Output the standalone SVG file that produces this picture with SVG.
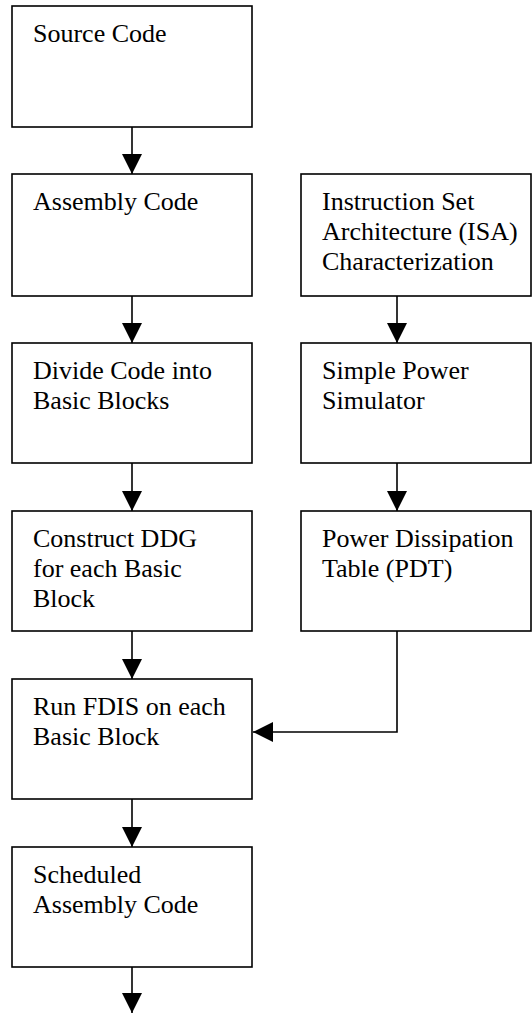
<svg xmlns="http://www.w3.org/2000/svg" width="532" height="1014" viewBox="0 0 532 1014">
  <style>
    .box { fill: #fff; stroke: #000; stroke-width: 1.6; }
    .lbl { font-family: "Liberation Serif", "Times New Roman", serif; font-size: 26px; fill: #000; }
    .wire { fill: none; stroke: #000; stroke-width: 1.6; }
  </style>
  <defs>
    <marker id="head" markerUnits="userSpaceOnUse" markerWidth="20" markerHeight="20" viewBox="0 0 20 20" refX="20" refY="10" orient="auto">
      <path d="M0,0 L20,10 L0,20 Z" fill="#000"/>
    </marker>
  </defs>

  <rect width="532" height="1014" fill="#fff"/>

  <!-- connectors -->
  <g id="connectors">
    <line class="wire" x1="132" y1="127" x2="132" y2="174" marker-end="url(#head)"/>
    <line class="wire" x1="132" y1="296" x2="132" y2="343" marker-end="url(#head)"/>
    <line class="wire" x1="132" y1="463" x2="132" y2="511" marker-end="url(#head)"/>
    <line class="wire" x1="132" y1="631" x2="132" y2="679" marker-end="url(#head)"/>
    <line class="wire" x1="132" y1="799" x2="132" y2="847" marker-end="url(#head)"/>
    <line class="wire" x1="132" y1="967" x2="132" y2="1013" marker-end="url(#head)"/>
    <line class="wire" x1="397" y1="296" x2="397" y2="343" marker-end="url(#head)"/>
    <line class="wire" x1="397" y1="463" x2="397" y2="511" marker-end="url(#head)"/>
    <polyline class="wire" points="397,631 397,732 253,732" marker-end="url(#head)"/>
  </g>

  <!-- left column -->
  <g id="source-code">
    <rect class="box" x="12" y="6" width="240" height="121"/>
    <text class="lbl" x="33" y="42">Source Code</text>
  </g>
  <g id="assembly-code">
    <rect class="box" x="12" y="174" width="240" height="122"/>
    <text class="lbl" x="33" y="210">Assembly Code</text>
  </g>
  <g id="divide-blocks">
    <rect class="box" x="12" y="343" width="240" height="120"/>
    <text class="lbl" x="33" y="379">Divide Code into</text>
    <text class="lbl" x="33" y="409">Basic Blocks</text>
  </g>
  <g id="construct-ddg">
    <rect class="box" x="12" y="511" width="240" height="120"/>
    <text class="lbl" x="33" y="547">Construct DDG</text>
    <text class="lbl" x="33" y="577">for each Basic</text>
    <text class="lbl" x="33" y="607">Block</text>
  </g>
  <g id="run-fdis">
    <rect class="box" x="12" y="679" width="240" height="120"/>
    <text class="lbl" x="33" y="715">Run FDIS on each</text>
    <text class="lbl" x="33" y="745">Basic Block</text>
  </g>
  <g id="scheduled-code">
    <rect class="box" x="12" y="847" width="240" height="120"/>
    <text class="lbl" x="33" y="883">Scheduled</text>
    <text class="lbl" x="33" y="913">Assembly Code</text>
  </g>

  <!-- right column -->
  <g id="isa-characterization">
    <rect class="box" x="301" y="174" width="230" height="122"/>
    <text class="lbl" x="322" y="210">Instruction Set</text>
    <text class="lbl" x="322" y="240">Architecture (ISA)</text>
    <text class="lbl" x="322" y="270">Characterization</text>
  </g>
  <g id="power-simulator">
    <rect class="box" x="301" y="343" width="230" height="120"/>
    <text class="lbl" x="322" y="379">Simple Power</text>
    <text class="lbl" x="322" y="409">Simulator</text>
  </g>
  <g id="power-table">
    <rect class="box" x="301" y="511" width="230" height="120"/>
    <text class="lbl" x="322" y="547">Power Dissipation</text>
    <text class="lbl" x="322" y="577">Table (PDT)</text>
  </g>
</svg>
